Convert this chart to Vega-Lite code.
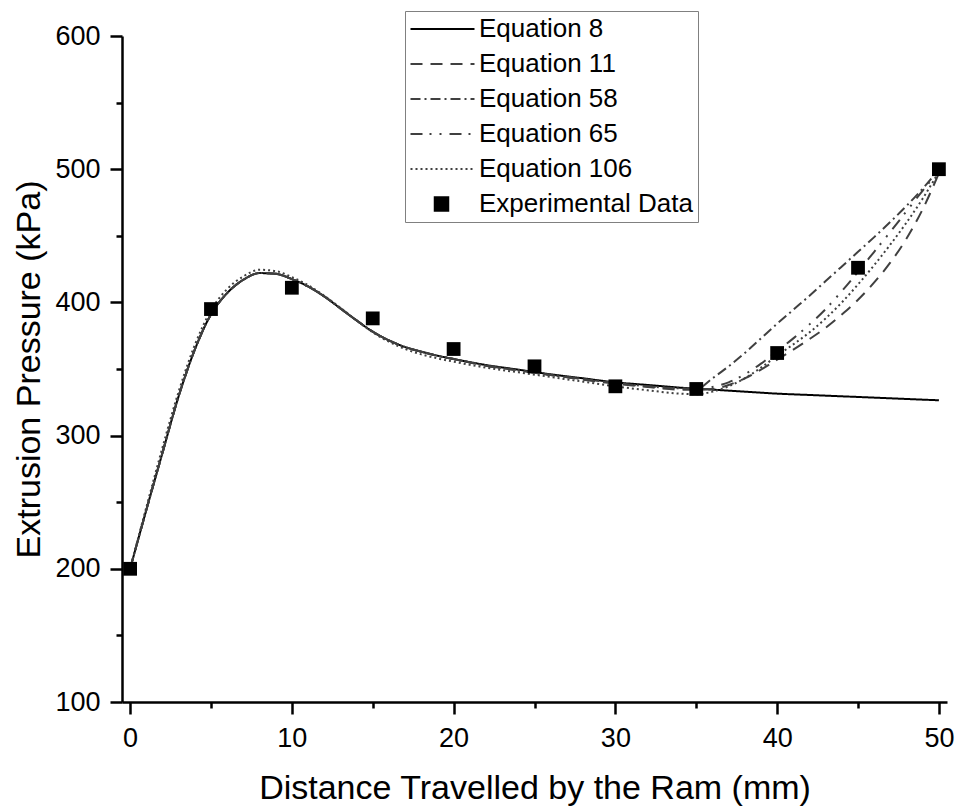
{
  "$schema": "https://vega.github.io/schema/vega-lite/v6.json",
  "width": 825,
  "height": 666,
  "autosize": {"type": "none"},
  "padding": {"left": 122, "top": 36, "right": 12, "bottom": 104},
  "background": "white",
  "config": {
    "view": {"stroke": null},
    "font": "Liberation Sans",
    "axis": {
      "grid": false,
      "domainColor": "black",
      "domainWidth": 2.5,
      "tickColor": "black",
      "tickWidth": 2.5,
      "labelColor": "black",
      "labelFont": "Liberation Sans",
      "labelFontSize": 27,
      "titleColor": "black",
      "titleFont": "Liberation Sans",
      "titleFontSize": 34,
      "titleFontWeight": "normal"
    },
    "legend": {
      "labelFont": "Liberation Sans",
      "labelFontSize": 26,
      "labelColor": "black",
      "labelLimit": 400
    }
  },
  "datasets": {
    "curves": [
      {"d": 0, "p": 200, "s": "Equation 8"}, {"d": 1, "p": 244, "s": "Equation 8"}, {"d": 2, "p": 287, "s": "Equation 8"}, {"d": 3, "p": 329.5, "s": "Equation 8"}, {"d": 4, "p": 364.5, "s": "Equation 8"}, {"d": 5, "p": 391, "s": "Equation 8"}, {"d": 6, "p": 407, "s": "Equation 8"}, {"d": 7, "p": 417, "s": "Equation 8"}, {"d": 8, "p": 422, "s": "Equation 8"}, {"d": 9, "p": 421.5, "s": "Equation 8"}, {"d": 10, "p": 417.5, "s": "Equation 8"}, {"d": 11, "p": 412, "s": "Equation 8"}, {"d": 12, "p": 404.5, "s": "Equation 8"}, {"d": 13, "p": 395.5, "s": "Equation 8"}, {"d": 14, "p": 386.5, "s": "Equation 8"}, {"d": 15, "p": 378, "s": "Equation 8"}, {"d": 16, "p": 371.5, "s": "Equation 8"}, {"d": 17, "p": 366.5, "s": "Equation 8"}, {"d": 18, "p": 363, "s": "Equation 8"}, {"d": 19, "p": 360, "s": "Equation 8"}, {"d": 20, "p": 357.5, "s": "Equation 8"}, {"d": 22, "p": 353, "s": "Equation 8"}, {"d": 24, "p": 349.5, "s": "Equation 8"}, {"d": 26, "p": 346, "s": "Equation 8"}, {"d": 28, "p": 343, "s": "Equation 8"}, {"d": 30, "p": 340, "s": "Equation 8"}, {"d": 32, "p": 338, "s": "Equation 8"}, {"d": 34, "p": 336, "s": "Equation 8"}, {"d": 36, "p": 334.5, "s": "Equation 8"}, {"d": 38, "p": 333, "s": "Equation 8"}, {"d": 40, "p": 331.5, "s": "Equation 8"}, {"d": 42, "p": 330.5, "s": "Equation 8"}, {"d": 45, "p": 329, "s": "Equation 8"}, {"d": 48, "p": 327.5, "s": "Equation 8"}, {"d": 50, "p": 326.5, "s": "Equation 8"},

      {"d": 0, "p": 200, "s": "Equation 11"}, {"d": 1, "p": 244, "s": "Equation 11"}, {"d": 2, "p": 287, "s": "Equation 11"}, {"d": 3, "p": 329.5, "s": "Equation 11"}, {"d": 4, "p": 364.5, "s": "Equation 11"}, {"d": 5, "p": 391, "s": "Equation 11"}, {"d": 6, "p": 407, "s": "Equation 11"}, {"d": 7, "p": 417, "s": "Equation 11"}, {"d": 8, "p": 422, "s": "Equation 11"}, {"d": 9, "p": 421.5, "s": "Equation 11"}, {"d": 10, "p": 417.5, "s": "Equation 11"}, {"d": 11, "p": 412, "s": "Equation 11"}, {"d": 12, "p": 404.5, "s": "Equation 11"}, {"d": 13, "p": 395.5, "s": "Equation 11"}, {"d": 14, "p": 386.5, "s": "Equation 11"}, {"d": 15, "p": 378, "s": "Equation 11"}, {"d": 16, "p": 371.5, "s": "Equation 11"}, {"d": 17, "p": 366.5, "s": "Equation 11"}, {"d": 18, "p": 363, "s": "Equation 11"}, {"d": 19, "p": 360, "s": "Equation 11"}, {"d": 20, "p": 357.5, "s": "Equation 11"}, {"d": 22, "p": 352.5, "s": "Equation 11"}, {"d": 24, "p": 349, "s": "Equation 11"}, {"d": 26, "p": 345.5, "s": "Equation 11"}, {"d": 28, "p": 342, "s": "Equation 11"}, {"d": 30, "p": 339, "s": "Equation 11"}, {"d": 32, "p": 336.5, "s": "Equation 11"}, {"d": 34, "p": 334.5, "s": "Equation 11"}, {"d": 35, "p": 334.5, "s": "Equation 11"}, {"d": 36, "p": 335, "s": "Equation 11"}, {"d": 37, "p": 338, "s": "Equation 11"}, {"d": 38, "p": 343, "s": "Equation 11"}, {"d": 39, "p": 349.5, "s": "Equation 11"}, {"d": 40, "p": 357, "s": "Equation 11"}, {"d": 41, "p": 364.5, "s": "Equation 11"}, {"d": 42, "p": 372.5, "s": "Equation 11"}, {"d": 43, "p": 381, "s": "Equation 11"}, {"d": 44, "p": 391, "s": "Equation 11"}, {"d": 45, "p": 402, "s": "Equation 11"}, {"d": 46, "p": 415, "s": "Equation 11"}, {"d": 47, "p": 430, "s": "Equation 11"}, {"d": 48, "p": 448, "s": "Equation 11"}, {"d": 49, "p": 470, "s": "Equation 11"}, {"d": 50, "p": 497, "s": "Equation 11"},

      {"d": 0, "p": 200, "s": "Equation 58"}, {"d": 1, "p": 244, "s": "Equation 58"}, {"d": 2, "p": 287, "s": "Equation 58"}, {"d": 3, "p": 329.5, "s": "Equation 58"}, {"d": 4, "p": 364.5, "s": "Equation 58"}, {"d": 5, "p": 391, "s": "Equation 58"}, {"d": 6, "p": 407, "s": "Equation 58"}, {"d": 7, "p": 417, "s": "Equation 58"}, {"d": 8, "p": 422, "s": "Equation 58"}, {"d": 9, "p": 421.5, "s": "Equation 58"}, {"d": 10, "p": 417.5, "s": "Equation 58"}, {"d": 11, "p": 412, "s": "Equation 58"}, {"d": 12, "p": 404.5, "s": "Equation 58"}, {"d": 13, "p": 395.5, "s": "Equation 58"}, {"d": 14, "p": 386.5, "s": "Equation 58"}, {"d": 15, "p": 378, "s": "Equation 58"}, {"d": 16, "p": 371.5, "s": "Equation 58"}, {"d": 17, "p": 366.5, "s": "Equation 58"}, {"d": 18, "p": 363, "s": "Equation 58"}, {"d": 19, "p": 360, "s": "Equation 58"}, {"d": 20, "p": 357.5, "s": "Equation 58"}, {"d": 22, "p": 352.5, "s": "Equation 58"}, {"d": 24, "p": 349, "s": "Equation 58"}, {"d": 26, "p": 345.5, "s": "Equation 58"}, {"d": 28, "p": 342.5, "s": "Equation 58"}, {"d": 30, "p": 339.5, "s": "Equation 58"}, {"d": 32, "p": 337, "s": "Equation 58"}, {"d": 34, "p": 335.5, "s": "Equation 58"}, {"d": 35, "p": 335, "s": "Equation 58"}, {"d": 36, "p": 343, "s": "Equation 58"}, {"d": 37, "p": 352, "s": "Equation 58"}, {"d": 38, "p": 362, "s": "Equation 58"}, {"d": 39, "p": 373, "s": "Equation 58"}, {"d": 40, "p": 384, "s": "Equation 58"}, {"d": 41, "p": 394.5, "s": "Equation 58"}, {"d": 42, "p": 405, "s": "Equation 58"}, {"d": 43, "p": 416, "s": "Equation 58"}, {"d": 44, "p": 427, "s": "Equation 58"}, {"d": 45, "p": 438, "s": "Equation 58"}, {"d": 46, "p": 449, "s": "Equation 58"}, {"d": 47, "p": 460.5, "s": "Equation 58"}, {"d": 48, "p": 472.5, "s": "Equation 58"}, {"d": 49, "p": 485.5, "s": "Equation 58"}, {"d": 50, "p": 500, "s": "Equation 58"},

      {"d": 0, "p": 200, "s": "Equation 65"}, {"d": 1, "p": 244, "s": "Equation 65"}, {"d": 2, "p": 287, "s": "Equation 65"}, {"d": 3, "p": 329.5, "s": "Equation 65"}, {"d": 4, "p": 364.5, "s": "Equation 65"}, {"d": 5, "p": 391, "s": "Equation 65"}, {"d": 6, "p": 407, "s": "Equation 65"}, {"d": 7, "p": 417, "s": "Equation 65"}, {"d": 8, "p": 422, "s": "Equation 65"}, {"d": 9, "p": 421.5, "s": "Equation 65"}, {"d": 10, "p": 417.5, "s": "Equation 65"}, {"d": 11, "p": 412, "s": "Equation 65"}, {"d": 12, "p": 404.5, "s": "Equation 65"}, {"d": 13, "p": 395.5, "s": "Equation 65"}, {"d": 14, "p": 386.5, "s": "Equation 65"}, {"d": 15, "p": 378, "s": "Equation 65"}, {"d": 16, "p": 371.5, "s": "Equation 65"}, {"d": 17, "p": 366.5, "s": "Equation 65"}, {"d": 18, "p": 363, "s": "Equation 65"}, {"d": 19, "p": 360, "s": "Equation 65"}, {"d": 20, "p": 357.5, "s": "Equation 65"}, {"d": 22, "p": 352.5, "s": "Equation 65"}, {"d": 24, "p": 349, "s": "Equation 65"}, {"d": 26, "p": 345.5, "s": "Equation 65"}, {"d": 28, "p": 342.5, "s": "Equation 65"}, {"d": 30, "p": 339.5, "s": "Equation 65"}, {"d": 32, "p": 337, "s": "Equation 65"}, {"d": 34, "p": 335.5, "s": "Equation 65"}, {"d": 35, "p": 335, "s": "Equation 65"}, {"d": 36, "p": 336.5, "s": "Equation 65"}, {"d": 37, "p": 340, "s": "Equation 65"}, {"d": 38, "p": 346, "s": "Equation 65"}, {"d": 39, "p": 354, "s": "Equation 65"}, {"d": 40, "p": 363.5, "s": "Equation 65"}, {"d": 41, "p": 373, "s": "Equation 65"}, {"d": 42, "p": 383.5, "s": "Equation 65"}, {"d": 43, "p": 395, "s": "Equation 65"}, {"d": 44, "p": 408.5, "s": "Equation 65"}, {"d": 45, "p": 423, "s": "Equation 65"}, {"d": 46, "p": 438, "s": "Equation 65"}, {"d": 47, "p": 453, "s": "Equation 65"}, {"d": 48, "p": 468.5, "s": "Equation 65"}, {"d": 49, "p": 484, "s": "Equation 65"}, {"d": 50, "p": 499, "s": "Equation 65"},

      {"d": 0, "p": 200, "s": "Equation 106"}, {"d": 1, "p": 246, "s": "Equation 106"}, {"d": 2, "p": 291, "s": "Equation 106"}, {"d": 3, "p": 333, "s": "Equation 106"}, {"d": 4, "p": 368, "s": "Equation 106"}, {"d": 5, "p": 394, "s": "Equation 106"}, {"d": 6, "p": 410, "s": "Equation 106"}, {"d": 7, "p": 419.5, "s": "Equation 106"}, {"d": 8, "p": 424.5, "s": "Equation 106"}, {"d": 9, "p": 423.5, "s": "Equation 106"}, {"d": 10, "p": 419, "s": "Equation 106"}, {"d": 11, "p": 413, "s": "Equation 106"}, {"d": 12, "p": 405, "s": "Equation 106"}, {"d": 13, "p": 396, "s": "Equation 106"}, {"d": 14, "p": 386.5, "s": "Equation 106"}, {"d": 15, "p": 377.5, "s": "Equation 106"}, {"d": 16, "p": 370.5, "s": "Equation 106"}, {"d": 17, "p": 365, "s": "Equation 106"}, {"d": 18, "p": 361, "s": "Equation 106"}, {"d": 19, "p": 358, "s": "Equation 106"}, {"d": 20, "p": 355.5, "s": "Equation 106"}, {"d": 22, "p": 351, "s": "Equation 106"}, {"d": 24, "p": 347.5, "s": "Equation 106"}, {"d": 26, "p": 344, "s": "Equation 106"}, {"d": 28, "p": 340.5, "s": "Equation 106"}, {"d": 30, "p": 337, "s": "Equation 106"}, {"d": 32, "p": 334, "s": "Equation 106"}, {"d": 34, "p": 331.5, "s": "Equation 106"}, {"d": 35, "p": 331, "s": "Equation 106"}, {"d": 36, "p": 333, "s": "Equation 106"}, {"d": 37, "p": 337, "s": "Equation 106"}, {"d": 38, "p": 343, "s": "Equation 106"}, {"d": 39, "p": 351, "s": "Equation 106"}, {"d": 40, "p": 360, "s": "Equation 106"}, {"d": 41, "p": 368.5, "s": "Equation 106"}, {"d": 42, "p": 377.5, "s": "Equation 106"}, {"d": 43, "p": 388, "s": "Equation 106"}, {"d": 44, "p": 400, "s": "Equation 106"}, {"d": 45, "p": 413.5, "s": "Equation 106"}, {"d": 46, "p": 428, "s": "Equation 106"}, {"d": 47, "p": 443.5, "s": "Equation 106"}, {"d": 48, "p": 460, "s": "Equation 106"}, {"d": 49, "p": 478, "s": "Equation 106"}, {"d": 50, "p": 498, "s": "Equation 106"}
    ],
    "measured": [
      {"d": 0, "p": 200}, {"d": 5, "p": 395}, {"d": 10, "p": 411}, {"d": 15, "p": 388}, {"d": 20, "p": 365}, {"d": 25, "p": 352}, {"d": 30, "p": 337}, {"d": 35, "p": 335}, {"d": 40, "p": 362}, {"d": 45, "p": 426}, {"d": 50, "p": 500}
    ]
  },
  "layer": [
    {
      "data": {"name": "curves"},
      "mark": {"type": "line", "strokeWidth": 2, "interpolate": "monotone"},
      "encoding": {
        "x": {
          "field": "d", "type": "quantitative",
          "scale": {"domain": [-0.5, 50.5], "nice": false, "zero": false},
          "axis": {
            "orient": "bottom",
            "values": [0, 10, 20, 30, 40, 50],
            "title": "Distance Travelled by the Ram (mm)",
            "tickSize": 12, "labelPadding": 11, "labelFlush": false,
            "titleY": 96, "titleBaseline": "alphabetic"
          }
        },
        "y": {
          "field": "p", "type": "quantitative",
          "scale": {"domain": [100, 600], "nice": false, "zero": false},
          "axis": {
            "orient": "left",
            "values": [100, 200, 300, 400, 500, 600],
            "title": "Extrusion Pressure (kPa)",
            "tickSize": 12, "labelPadding": 10, "labelFlush": false,
            "titleAngle": 270, "titleX": -83, "titleY": 333,
            "titleAlign": "center", "titleBaseline": "alphabetic"
          }
        },
        "strokeDash": {
          "field": "s", "type": "nominal",
          "scale": {
            "domain": ["Equation 8", "Equation 11", "Equation 58", "Equation 65", "Equation 106", "Experimental Data"],
            "range": [[1, 0], [12, 8], [10, 4, 2, 4], [12, 7, 2, 8, 2, 8], [2, 3], [1, 0]]
          },
          "legend": null
        },
        "color": {
          "field": "s", "type": "nominal",
          "scale": {
            "domain": ["Equation 8", "Equation 11", "Equation 58", "Equation 65", "Equation 106", "Experimental Data"],
            "range": ["#000000", "#404040", "#404040", "#404040", "#404040", "#000000"]
          },
          "legend": {
            "title": null,
            "orient": "none", "legendX": 283, "legendY": -25,
            "direction": "vertical",
            "padding": 5, "rowPadding": 9,
            "labelOffset": 43, "labelLimit": 400,
            "symbolSize": 529, "symbolStrokeWidth": 2,
            "strokeColor": "#808080", "fillColor": "white",
            "encode": {
              "symbols": {
                "update": {
                  "shape": {"signal": "datum.value === 'Experimental Data' ? 'M1.022,-0.587H2.196V0.587H1.022Z' : 'M-1.087,0H4.478'"},
                  "size": {"value": 529},
                  "fill": {"signal": "datum.value === 'Experimental Data' ? 'black' : 'transparent'"},
                  "stroke": {"signal": "datum.value === 'Experimental Data' ? 'transparent' : (datum.value === 'Equation 8' ? 'black' : '#404040')"},
                  "strokeDash": {"scale": "strokeDash", "field": "value"},
                  "strokeWidth": {"value": 2},
                  "opacity": {"value": 1}
                }
              }
            }
          }
        }
      }
    },
    {
      "data": {"name": "measured"},
      "mark": {"type": "point", "shape": "square", "filled": true, "size": 190, "color": "black", "opacity": 1},
      "encoding": {
        "x": {
          "field": "d", "type": "quantitative",
          "scale": {"domain": [-0.5, 50.5], "nice": false, "zero": false},
          "axis": {"orient": "bottom", "values": [5, 15, 25, 35, 45], "labels": false, "domain": false, "title": null, "tickSize": 6}
        },
        "y": {
          "field": "p", "type": "quantitative",
          "scale": {"domain": [100, 600], "nice": false, "zero": false},
          "axis": {"orient": "left", "values": [150, 250, 350, 450, 550], "labels": false, "domain": false, "title": null, "tickSize": 6}
        }
      }
    }
  ],
  "resolve": {"axis": {"x": "independent", "y": "independent"}}
}
